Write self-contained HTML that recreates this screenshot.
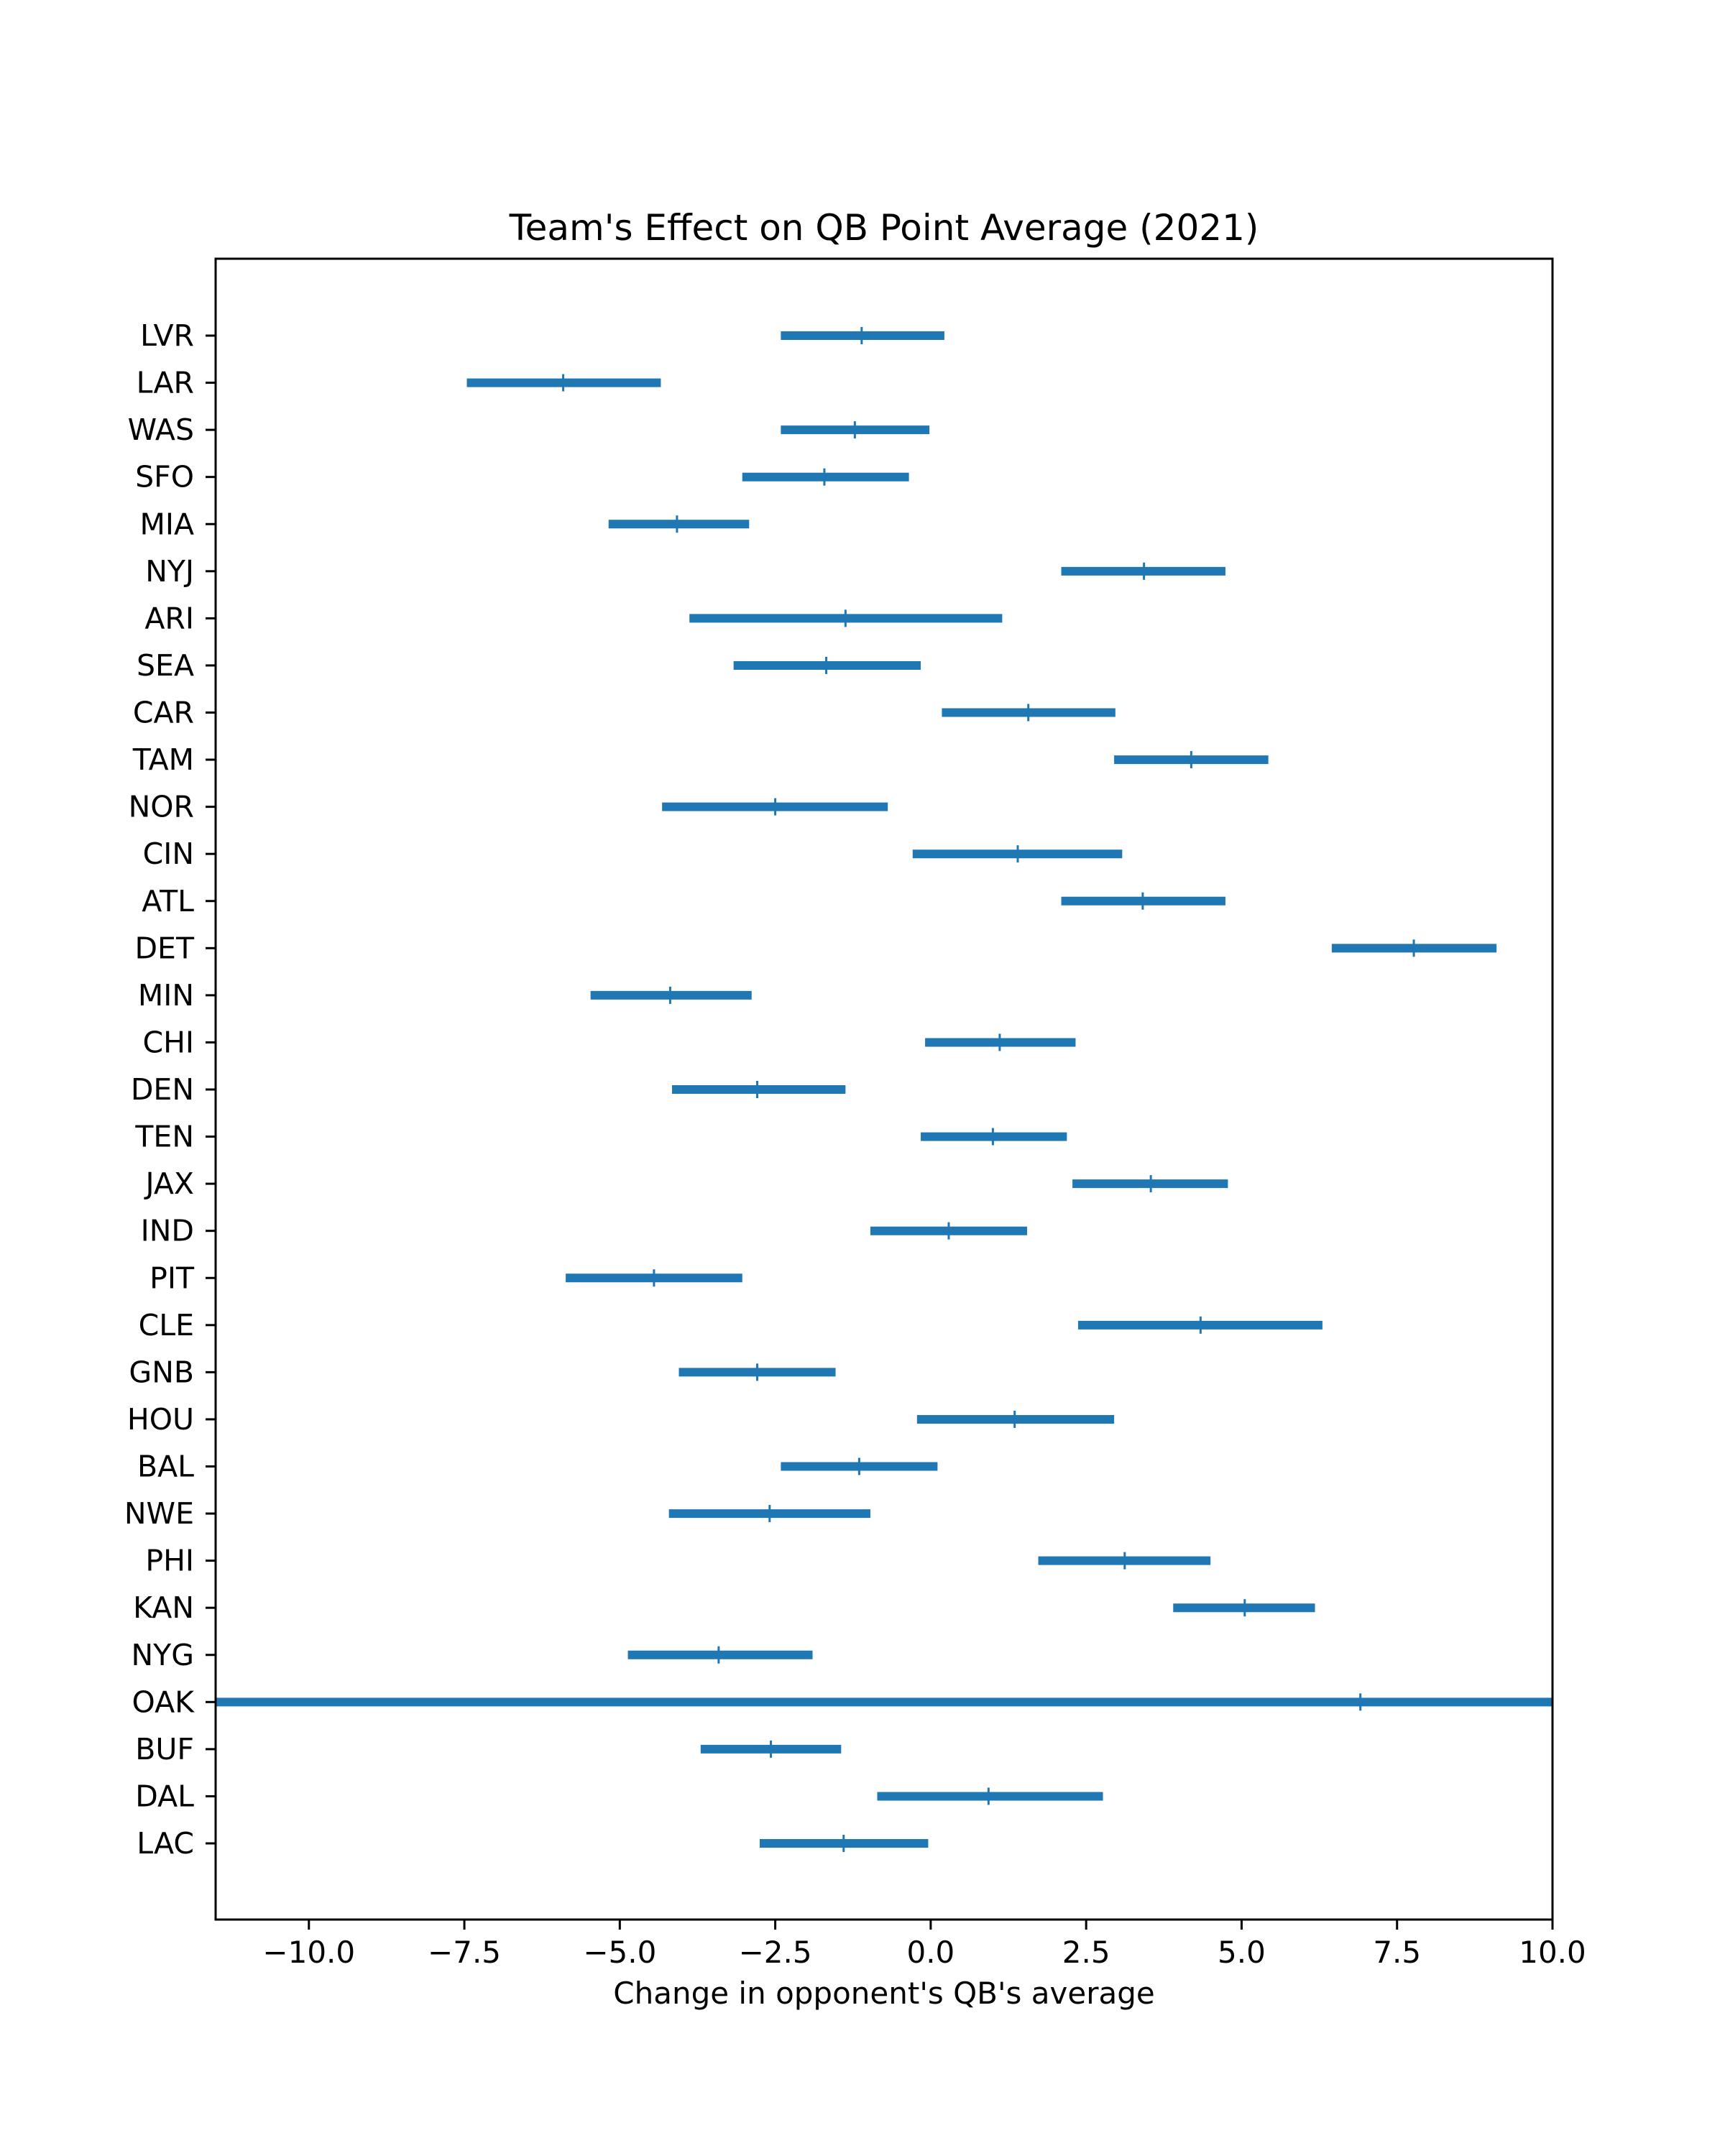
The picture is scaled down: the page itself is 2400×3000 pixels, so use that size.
<!DOCTYPE html>
<html><head><meta charset="utf-8"><style>
body{margin:0;background:#fff}
svg{display:block}
text{font-family:"DejaVu Sans","Liberation Sans",sans-serif;fill:#000}
</style></head><body>
<svg id="chart" width="2400" height="3000" viewBox="0 0 2400 3000" xmlns="http://www.w3.org/2000/svg">
<rect width="2400" height="3000" fill="#fff"/>
<text x="1230" y="334" font-size="50" text-anchor="middle">Team's Effect on QB Point Average (2021)</text>
<g id="marks"></g>
<g id="axes"></g>
<text x="1230" y="2788" font-size="42" text-anchor="middle">Change in opponent's QB's average</text>
</svg>
<script>
const teams=["LVR","LAR","WAS","SFO","MIA","NYJ","ARI","SEA","CAR","TAM","NOR","CIN","ATL","DET","MIN","CHI","DEN","TEN","JAX","IND","PIT","CLE","GNB","HOU","BAL","NWE","PHI","KAN","NYG","OAK","BUF","DAL","LAC"];
const lows=[-2.41,-7.46,-2.41,-3.03,-5.18,2.10,-3.88,-3.17,0.18,2.95,-4.32,-0.29,2.10,6.45,-5.47,-0.09,-4.16,-0.16,2.28,-0.97,-5.87,2.37,-4.05,-0.22,-2.41,-4.21,1.73,3.90,-4.87,-20,-3.70,-0.86,-2.75];
const mids=[-1.11,-5.91,-1.22,-1.71,-4.08,3.43,-1.37,-1.68,1.57,4.19,-2.50,1.40,3.41,7.77,-4.19,1.11,-2.79,1.00,3.54,0.29,-4.45,4.34,-2.79,1.35,-1.15,-2.59,3.12,5.05,-3.41,6.91,-2.57,0.93,-1.40];
const highs=[0.22,-4.34,-0.02,-0.35,-2.92,4.74,1.15,-0.16,2.97,5.43,-0.69,3.08,4.74,9.10,-2.88,2.33,-1.37,2.19,4.78,1.55,-3.03,6.30,-1.53,2.95,0.11,-0.97,4.50,6.18,-1.90,30,-1.44,2.77,-0.04];
const xTicks=[-10,-7.5,-5,-2.5,0,2.5,5,7.5,10];
const xTickLabels=["\u221210.0","\u22127.5","\u22125.0","\u22122.5","0.0","2.5","5.0","7.5","10.0"];

const L=300,R=2160,T=360,B=2671,xmin=-11.5,xmax=10;
const xs=v=>L+(v-xmin)/(xmax-xmin)*(R-L);
const ys=i=>467+i*(2565-467)/(teams.length-1);
const clip=v=>Math.max(L,Math.min(R,xs(v)));
const NS="http://www.w3.org/2000/svg";
const marks=document.getElementById('marks'),axes=document.getElementById('axes');
function mk(tag,attrs,parent){const e=document.createElementNS(NS,tag);for(const k in attrs)e.setAttribute(k,attrs[k]);parent.appendChild(e);return e;}
teams.forEach((t,i)=>{
  const y=ys(i);
  const bar=mk('line',{x1:clip(lows[i]),x2:clip(highs[i]),y1:y,y2:y,stroke:'#1f77b4','stroke-width':12},marks);
  
  
  const m=mk('line',{x1:xs(mids[i]),x2:xs(mids[i]),y1:y-12,y2:y+12,stroke:'#1f77b4','stroke-width':3},marks);
  
  
  const tk=mk('line',{x1:286,x2:L,y1:y,y2:y,stroke:'#000','stroke-width':3},axes);
  
  
  const lb=mk('text',{x:270,y:y+14,'font-size':41,'text-anchor':'end'},axes);
  lb.textContent=t;
  
  
});
xTicks.forEach((v,i)=>{
  const x=xs(v);
  const tk=mk('line',{x1:x,x2:x,y1:B,y2:B+14,stroke:'#000','stroke-width':3},axes);
  
  
  const lb=mk('text',{x:x,y:2731,'font-size':42,'text-anchor':'middle'},axes);
  lb.textContent=xTickLabels[i];
  
  
});
const frame=mk('rect',{x:L,y:T,width:R-L,height:B-T,fill:'none',stroke:'#000','stroke-width':3},axes);


</script>
</body></html>
